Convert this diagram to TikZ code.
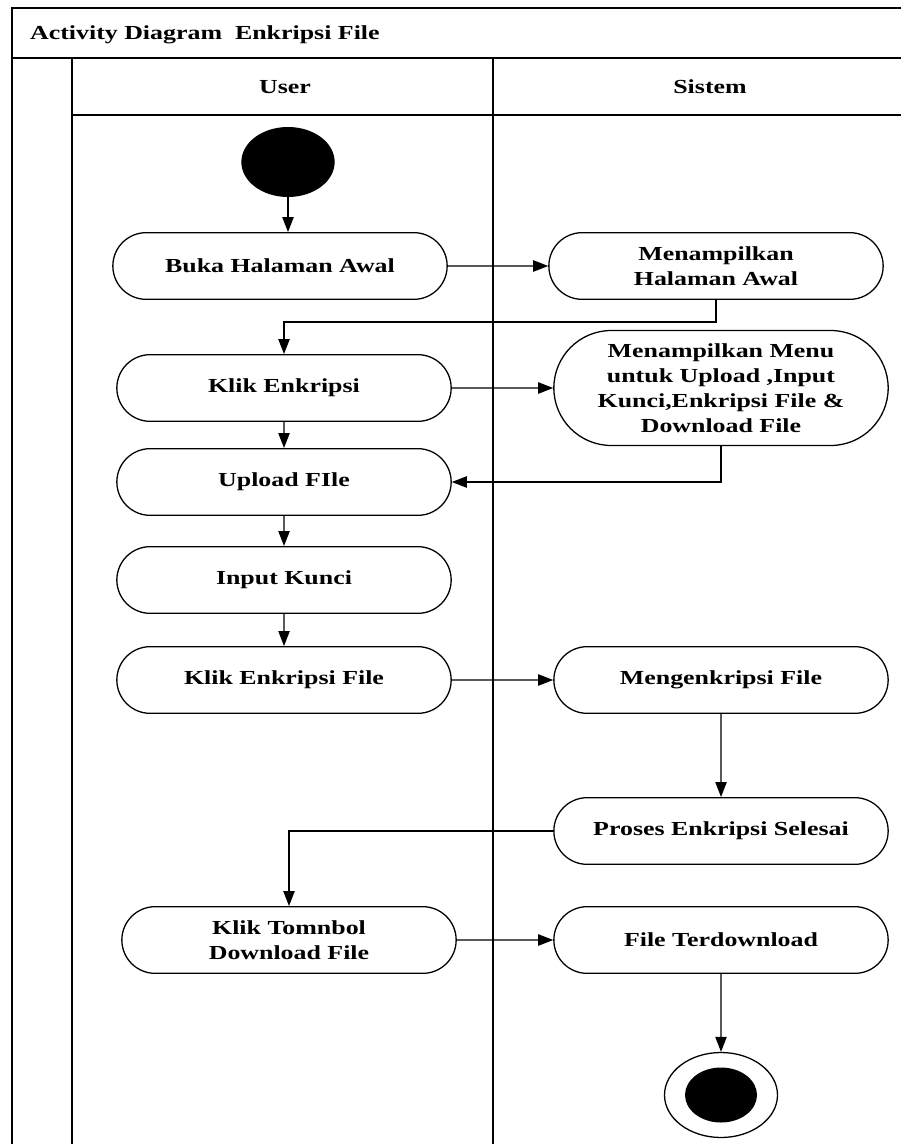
\documentclass[tikz,border=0pt]{standalone}
\usepackage{fontspec}
\setmainfont{Liberation Serif}[FakeStretch=1.3]
\usepackage{tikz}
\usetikzlibrary{positioning,shapes.misc,shapes.geometric,arrows.meta}

\begin{document}
\begin{tikzpicture}[x=0.3mm,y=-0.3mm,
   font=\fontsize{17}{21.3}\selectfont\bfseries,
   lane/.style={line width=1.4pt},
   act/.style={rounded rectangle,draw,line width=1.1pt,minimum width=101mm,
               minimum height=20mm,inner sep=1pt,align=center},
   arr/.style={line width=1.1pt,-{Triangle[length=4.5mm,width=3.4mm]}}]
\useasboundingbox (0,0) rectangle (901,1144);
%% ---- frame and swimlanes ----
\coordinate (tl) at (12,8);
\draw[lane] (901,8) -- (tl) -- (12,1144);
\draw[lane] (12,58) -- (901,58);
\draw[lane] (72,58) -- (72,1144);
\draw[lane] (493,58) -- (493,1144);
\draw[lane] (72,115) -- (901,115);
\node[anchor=west] (title) at (26,35) {Activity Diagram\ \ Enkripsi File};
\node (user) at (285,87) {User};
\node (sistem) at (710,87) {Sistem};
%% ---- user lane ----
\node[ellipse,fill=black,minimum width=28mm,minimum height=21mm,inner sep=0pt] (start) at (288,162) {};
\node[act] (buka) at (280,266) {Buka Halaman Awal};
\node[act] (klik) at (284,388) {Klik Enkripsi};
\node[act] (upload) at (284,482) {Upload FIle};
\node[act] (kunci) at (284,580) {Input Kunci};
\node[act] (klikfile) at (284,680) {Klik Enkripsi File};
\node[act] (tombol) at (289,940) {Klik Tomnbol\\Download File};
%% ---- sistem lane ----
\node[act] (halaman) at (716,266) {Menampilkan\\Halaman Awal};
\node[act,minimum height=34.5mm] (menu) at (721,388) {Menampilkan Menu\\untuk Upload ,Input\\Kunci,Enkripsi File \&\\Download File};
\node[act] (enkripsi) at (721,680) {Mengenkripsi File};
\node[act] (selesai) at (721,831) {Proses Enkripsi Selesai};
\node[act] (unduh) at (721,940) {File Terdownload};
\node[ellipse,draw,line width=1.1pt,minimum width=33.9mm,minimum height=25.5mm,inner sep=0pt] (akhir) at (721,1095) {};
\node[ellipse,fill=black,minimum width=21.6mm,minimum height=16.5mm,inner sep=0pt] (akhirdot) at (akhir) {};
%% ---- flow ----
\draw[arr] (start) -- (start |- buka.north);
\draw[arr] (buka) -- (halaman);
\draw[arr] (halaman.south) -- ++(0,22) -| (klik.north);
\draw[arr] (klik) -- (menu);
\draw[arr] (klik) -- (upload);
\draw[arr] (menu.south) |- (upload.east);
\draw[arr] (upload) -- (kunci);
\draw[arr] (kunci) -- (klikfile);
\draw[arr] (klikfile) -- (enkripsi);
\draw[arr] (enkripsi) -- (selesai);
\draw[arr] (selesai.west) -| (tombol.north);
\draw[arr] (tombol) -- (unduh);
\draw[arr] (unduh) -- (akhir);
\end{tikzpicture}
\end{document}
